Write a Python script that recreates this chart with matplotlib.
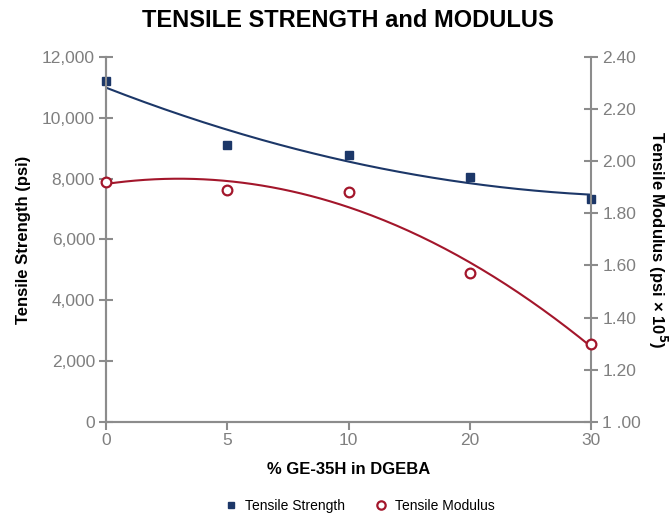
import numpy as np
import matplotlib
matplotlib.use("Agg")
import matplotlib.pyplot as plt
from matplotlib.lines import Line2D

plt.rcParams["font.family"] = ["Liberation Sans", "DejaVu Sans"]

# ---------------------------
# Data
# ---------------------------
categories = ["0", "5", "10", "20", "30"]
tensile_strength = [11200, 9100, 8780, 8050, 7330]
tensile_modulus = [1.92, 1.89, 1.88, 1.57, 1.30]

blue = "#1c3768"
red = "#a3162b"
grey = "#8c8c8c"
tick_grey = "#7f7f7f"

x = np.arange(len(categories))
xs = np.linspace(x[0], x[-1], 200)

# quadratic trendlines
fit_s = np.polyfit(x, tensile_strength, 2)
fit_m = np.polyfit(x, tensile_modulus, 2)

fig = plt.figure(figsize=(6.71, 5.21), dpi=100)
ax = fig.add_axes([0.158, 0.19, 0.723, 0.701])
ax2 = ax.twinx()

ax.plot(xs, np.polyval(fit_s, xs), color=blue, lw=1.5, zorder=2)
ax.plot(x, tensile_strength, "s", color=blue, ms=6, zorder=3, clip_on=False)

ax2.plot(xs, np.polyval(fit_m, xs), color=red, lw=1.5, zorder=2)
ax2.plot(x, tensile_modulus, "o", mfc="white", mec=red, mew=1.6, ms=7,
         zorder=3, clip_on=False)

ax.set_xlim(x[0], x[-1])
ax.set_ylim(0, 12000)
ax2.set_ylim(1.0, 2.4)
ax.set_xticks(x)
ax.set_xticklabels(categories)
ax.set_yticks(np.arange(0, 12001, 2000))
ax.set_yticklabels([f"{v:,}" for v in range(0, 12001, 2000)])
ax2.set_yticks(np.arange(1.0, 2.41, 0.2))
ax2.set_yticklabels(["1 .00"] + [f"{v:.2f}" for v in np.arange(1.2, 2.41, 0.2)])

for a in (ax, ax2):
    for s in a.spines.values():
        s.set_color(grey)
        s.set_linewidth(1.5)
    a.spines["top"].set_visible(False)
    a.tick_params(colors=grey, labelcolor=tick_grey, labelsize=12.5,
                  direction="inout", length=10, width=1.5, pad=3)
ax.spines["right"].set_visible(False)
ax.tick_params(axis="x", direction="out", length=6, pad=2)

ax.set_ylabel("Tensile Strength (psi)", fontsize=12, fontweight="bold", labelpad=8)
ax2.set_ylabel("Tensile Modulus (psi × 10$^\\mathbf{5}$)", fontsize=12,
               fontweight="bold", rotation=270, labelpad=20)
ax.set_xlabel("% GE-35H in DGEBA", fontsize=12, fontweight="bold", labelpad=10)
fig.suptitle("TENSILE STRENGTH and MODULUS", x=0.518, fontsize=17,
             fontweight="bold", y=0.982)

handles = [
    Line2D([], [], marker="s", ls="", color=blue, ms=5, label="Tensile Strength"),
    Line2D([], [], marker="o", ls="", mfc="white", mec=red, mew=1.6, ms=6,
           label="Tensile Modulus"),
]
fig.legend(handles=handles, loc="lower center", ncol=2, frameon=False,
           fontsize=10, bbox_to_anchor=(0.53, -0.008), handletextpad=0.0,
           columnspacing=1.6)

fig.savefig("out.png", dpi=100)
